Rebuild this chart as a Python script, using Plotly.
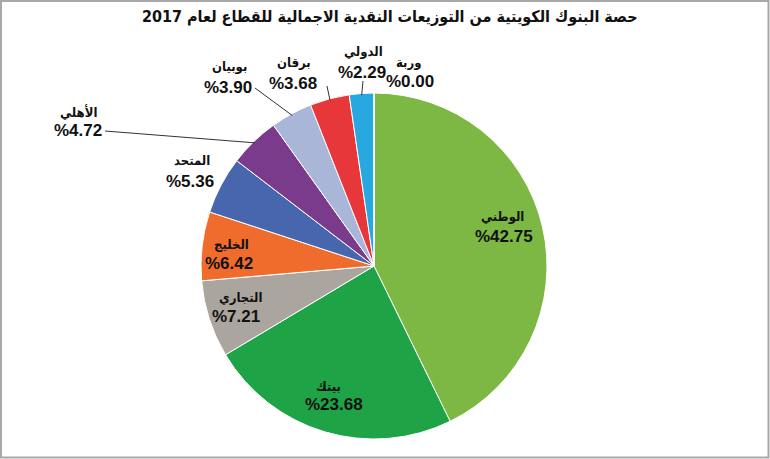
import math
import plotly.graph_objects as go

W, H = 770, 459

# ---- data ----
banks = ["الوطني", "بيتك", "التجاري", "الخليج", "المتحد", "الأهلي", "بوبيان", "برقان", "الدولي", "وربة"]
shares = [42.75, 23.68, 7.21, 6.42, 5.36, 4.72, 3.90, 3.68, 2.29, 0.00]
value_labels = ["%42.75", "%23.68", "%7.21", "%6.42", "%5.36", "%4.72", "%3.90", "%3.68", "%2.29", "%0.00"]
title_text = "حصة البنوك الكويتية من التوزيعات النقدية الاجمالية للقطاع لعام 2017"

# ---- styles / layout constants ----
colors = ["#7cb843", "#1fa347", "#aaa59f", "#ef6c2c", "#4766ad", "#7b3b8d", "#aab6d8", "#e7373b", "#27a8e0", "#d0d0d0"]
CX, CY, R = 374, 266, 173  # pie centre and radius in pixels
# label anchor positions (pixels): (name_x, name_y, value_x, value_y)
label_pos = [
    (502, 216, 504, 236),
    (328, 386, 334, 404),
    (240, 297, 236, 316),
    (231, 244, 229, 263),
    (192, 161, 190, 181),
    (78, 112, 78, 130),
    (229, 67, 228, 87),
    (294, 62, 293, 83),
    (363, 52, 362, 72),
    (409, 62, 410, 82),
]
# leader line start points (pixels) for slices with external labels; None = no line
leader_start = [None, None, None, None, None, (105, 131), (255, 88), (327, 86), (363, 81), None]


def px(x):
    return x / W


def py(y):
    return 1 - y / H


fig = go.Figure()
fig.add_trace(go.Pie(
    labels=banks,
    values=shares,
    sort=False,
    direction="clockwise",
    rotation=0,
    textinfo="none",
    hoverinfo="label+value",
    marker=dict(colors=colors, line=dict(color="white", width=1)),
    domain=dict(x=[px(CX - R), px(CX + R)], y=[py(CY + R), py(CY - R)]),
    showlegend=False,
))

font_family = "Arial, 'Liberation Sans', 'DejaVu Sans', sans-serif"
name_family = "'DejaVu Sans Condensed', 'DejaVu Sans', sans-serif"
annotations = []
shapes = []
total = sum(shares)
cum = 0.0
for i, (name, val, vlab) in enumerate(zip(banks, shares, value_labels)):
    mid = (cum + val / 2) / total * 2 * math.pi
    cum += val
    nx, ny, vx, vy = label_pos[i]
    annotations.append(dict(x=px(nx), y=py(ny), xref="paper", yref="paper", text=f"<b>{name}</b>",
                            showarrow=False, font=dict(family=name_family, size=13, color="#111111"),
                            xanchor="center", yanchor="middle"))
    annotations.append(dict(x=px(vx), y=py(vy), xref="paper", yref="paper", text=f"<b>{vlab}</b>",
                            showarrow=False, font=dict(family=font_family, size=17, color="#111111"),
                            xanchor="center", yanchor="middle"))
    if leader_start[i] is not None:
        sx, sy = leader_start[i]
        ex = CX + R * 0.99 * math.sin(mid)
        ey = CY - R * 0.99 * math.cos(mid)
        shapes.append(dict(type="line", xref="paper", yref="paper",
                           x0=px(sx), y0=py(sy), x1=px(ex), y1=py(ey),
                           line=dict(color="#333333", width=1)))

# frame
shapes.append(dict(type="rect", xref="paper", yref="paper", x0=px(1), y0=py(457.5), x1=px(768.5), y1=py(1),
                   line=dict(color="#a8a8a8", width=2), fillcolor="rgba(0,0,0,0)", layer="above"))

annotations.append(dict(x=px(390), y=py(17), xref="paper", yref="paper", text=f"<b>{title_text}</b>",
                        showarrow=False, font=dict(family=name_family, size=16, color="#111111"),
                        xanchor="center", yanchor="middle"))

fig.update_layout(
    width=W, height=H,
    margin=dict(l=0, r=0, t=0, b=0),
    paper_bgcolor="white",
    plot_bgcolor="white",
    annotations=annotations,
    shapes=shapes,
)

fig.write_html("out.html")
